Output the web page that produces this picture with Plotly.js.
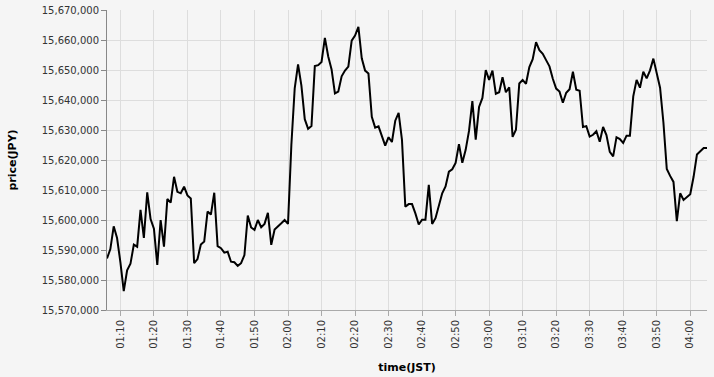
<!DOCTYPE html>
<html>
<head>
<meta charset="utf-8">
<script src="https://cdn.plot.ly/plotly-3.0.1.min.js"></script>
<style>html,body{margin:0;padding:0;background:#f5f5f5;}#chart{width:714px;height:377px;}</style>
</head>
<body>
<div id="chart"></div>
<script>
// Minute timestamps (JST)
const times = [
"01:06","01:07","01:08","01:09","01:10","01:11","01:12","01:13","01:14","01:15","01:16","01:17","01:18","01:19",
"01:20","01:21","01:22","01:23","01:24","01:25","01:26","01:27","01:28","01:29",
"01:30","01:31","01:32","01:33","01:34","01:35","01:36","01:37","01:38","01:39",
"01:40","01:41","01:42","01:43","01:44","01:45","01:46","01:47","01:48","01:49",
"01:50","01:51","01:52","01:53","01:54","01:55","01:56","01:57","01:58","01:59",
"02:00","02:01","02:02","02:03","02:04","02:05","02:06","02:07","02:08","02:09",
"02:10","02:11","02:12","02:13","02:14","02:15","02:16","02:17","02:18","02:19",
"02:20","02:21","02:22","02:23","02:24","02:25","02:26","02:27","02:28","02:29",
"02:30","02:31","02:32","02:33","02:34","02:35","02:36","02:37","02:38","02:39",
"02:40","02:41","02:42","02:43","02:44","02:45","02:46","02:47","02:48","02:49",
"02:50","02:51","02:52","02:53","02:54","02:55","02:56","02:57","02:58","02:59",
"03:00","03:01","03:02","03:03","03:04","03:05","03:06","03:07","03:08","03:09",
"03:10","03:11","03:12","03:13","03:14","03:15","03:16","03:17","03:18","03:19",
"03:20","03:21","03:22","03:23","03:24","03:25","03:26","03:27","03:28","03:29",
"03:30","03:31","03:32","03:33","03:34","03:35","03:36","03:37","03:38","03:39",
"03:40","03:41","03:42","03:43","03:44","03:45","03:46","03:47","03:48","03:49",
"03:50","03:51","03:52","03:53","03:54","03:55","03:56","03:57","03:58","03:59",
"04:00","04:01","04:02","04:03","04:04","04:05"
];

// Price in thousands of JPY
const priceK = [
15587.2,15590.3,15597.9,15594.0,15585.9,15576.3,15583.2,15585.4,15591.8,15591.1,
15603.4,15594.0,15609.2,15600.3,15597.1,15585.0,15600.0,15591.1,15607.0,15605.8,
15614.4,15609.4,15608.9,15611.1,15608.2,15607.2,15585.6,15587.0,15591.8,15592.8,
15602.8,15601.8,15609.1,15591.3,15590.6,15589.1,15589.4,15586.1,15585.9,15584.7,
15585.6,15588.3,15601.5,15597.5,15596.7,15600.0,15597.6,15598.7,15602.4,15591.7,
15596.8,15598.0,15598.9,15600.0,15598.7,15625.0,15643.9,15651.9,15644.8,15633.6,
15630.4,15631.3,15651.3,15651.6,15652.7,15660.7,15654.5,15650.2,15642.2,15642.8,
15647.9,15649.8,15651.1,15659.8,15661.5,15664.4,15653.9,15649.8,15648.8,15634.4,
15630.8,15631.2,15627.9,15624.8,15627.6,15626.0,15633.1,15635.7,15626.7,15604.4,
15605.3,15605.3,15602.2,15598.5,15600.1,15600.1,15611.7,15598.7,15600.6,15605.0,
15608.9,15611.2,15616.1,15616.9,15619.0,15625.3,15619.1,15623.4,15629.7,15639.6,
15626.8,15637.7,15640.7,15650.0,15646.7,15649.8,15642.1,15642.6,15647.6,15642.6,
15644.2,15627.7,15630.1,15645.5,15646.7,15645.4,15651.0,15653.6,15659.3,15656.6,
15655.4,15653.3,15651.2,15647.1,15643.8,15642.8,15639.1,15642.4,15643.6,15649.4,
15643.4,15643.1,15631.0,15631.3,15627.8,15628.4,15629.6,15626.1,15631.0,15628.3,
15622.7,15621.2,15627.6,15627.0,15625.7,15628.1,15628.1,15641.2,15646.7,15644.1,
15649.4,15647.2,15649.9,15653.8,15649.1,15644.1,15632.5,15617.0,15614.7,15612.7,
15599.6,15608.9,15606.7,15607.8,15608.6,15614.4,15621.8,15622.9,15624.0,15624.0
];

const day = "2024-01-01 ";
const x = times.map(t => day + t + ":00");
const y = priceK.map(v => Math.round(v * 1000));

const font = "DejaVu Sans, sans-serif";

Plotly.newPlot("chart", [{
  x: x, y: y, type: "scatter", mode: "lines",
  line: {color: "#000000", width: 2},
  hoverinfo: "skip"
}], {
  width: 714, height: 377,
  margin: {l: 107, r: 7, t: 10, b: 67, pad: 0},
  paper_bgcolor: "#f5f5f5",
  plot_bgcolor: "#f5f5f5",
  showlegend: false,
  font: {family: font, size: 10, color: "#333333"},
  xaxis: {
    type: "date",
    range: [x[0], x[x.length - 1]],
    tickmode: "linear",
    tick0: day + "01:10:00",
    dtick: 600000,
    tickformat: "%H:%M",
    tickangle: -90,
    ticks: "outside", ticklen: 5, tickcolor: "#aaaaaa",
    showgrid: true, gridcolor: "#dddddd", gridwidth: 1,
    showline: true, linecolor: "#aaaaaa", linewidth: 1,
    zeroline: false,
    tickfont: {family: font, size: 10, color: "#333333"},
    title: {text: "time(JST)", standoff: 15, font: {family: font, size: 11, color: "#000000", weight: "bold"}},
    automargin: false
  },
  yaxis: {
    range: [15570000, 15670000],
    tickmode: "linear", tick0: 15570000, dtick: 10000,
    tickformat: ",d",
    ticks: "outside", ticklen: 5, tickcolor: "#888888",
    showgrid: true, gridcolor: "#dddddd", gridwidth: 1,
    showline: true, linecolor: "#888888", linewidth: 1,
    zeroline: false,
    tickfont: {family: font, size: 10, color: "#333333"},
    title: {text: "price(JPY)", standoff: 22, font: {family: font, size: 11, color: "#000000", weight: "bold"}},
    automargin: false
  }
}, {staticPlot: true, displayModeBar: false});
</script>
</body>
</html>
